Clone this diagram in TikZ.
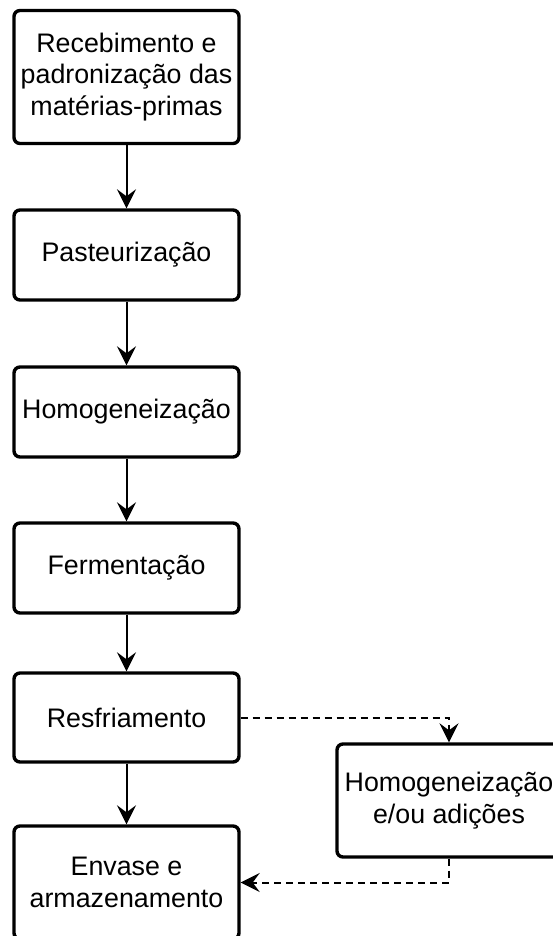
\documentclass[tikz,border=0pt]{standalone}
\usepackage{fontspec}
\setmainfont{Liberation Sans}
\usetikzlibrary{arrows.meta}
\begin{document}
\begin{tikzpicture}[x=1pt,y=-1pt,
  stepbox/.style={draw=black, line width=3.4pt, rounded corners=6pt, fill=white,
    minimum width=225pt, inner sep=0pt, align=center,
    font=\fontsize{26.8}{31.5}\selectfont},
  flow/.style={line width=2pt, -{Stealth[length=19pt,width=19pt,inset=7pt]}},
  dflow/.style={flow, dash pattern=on 7pt off 5pt}]
\useasboundingbox (0,0) rectangle (552,936);
\node[stepbox, minimum height=133pt] (b1) at (126.5,77) {Recebimento e\\padronização das\\matérias-primas};
\node[stepbox, minimum height=90pt] (b2) at (126.5,255) {Pasteurização};
\node[stepbox, minimum height=90pt] (b3) at (126.5,412) {Homogeneização};
\node[stepbox, minimum height=90pt] (b4) at (126.5,568) {Fermentação};
\node[stepbox, minimum height=89pt] (b5) at (126.5,717.5) {Resfriamento};
\node[stepbox, minimum height=113pt] (b6) at (126.5,882.5) {Envase e\\armazenamento};
\node[stepbox, minimum width=224pt, minimum height=113pt] (r) at (449,800.5) {Homogeneização\\e/ou adições};
\draw[flow] (b1) -- (b2);
\draw[flow] (b2) -- (b3);
\draw[flow] (b3) -- (b4);
\draw[flow] (b4) -- (b5);
\draw[flow] (b5) -- (b6);
\draw[dflow] (b5.east) -| (r.north);
\draw[dflow] (r.south) |- (b6.east);
\end{tikzpicture}
\end{document}
